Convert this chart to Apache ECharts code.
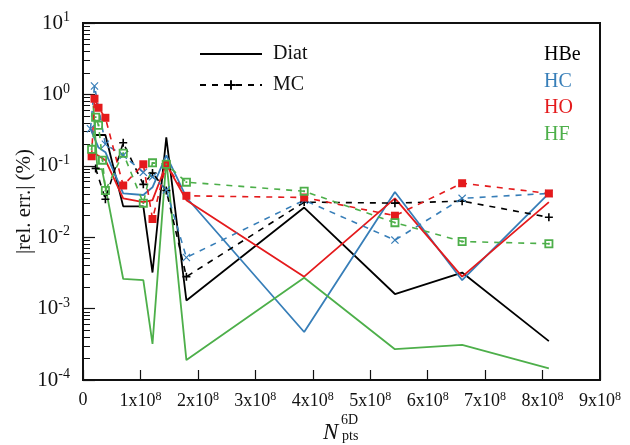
<!DOCTYPE html>
<html>
<head>
<meta charset="utf-8">
<script src="https://cdn.jsdelivr.net/npm/echarts@6/dist/echarts.min.js"></script>
<style>
  html, body { margin: 0; padding: 0; background: #fff; }
  #chart { width: 630px; height: 445px; }
</style>
</head>
<body>
<div id="chart"></div>
<script>
// x values are in units of 1e8 points
const hbeDiatX = [0.2, 0.39, 0.7, 1.05, 1.21, 1.45, 1.8, 3.85, 5.43, 6.6, 8.11]
const hbeDiatY = [0.27, 0.27, 0.027, 0.027, 0.0032, 0.25, 0.0013, 0.026, 0.0016, 0.0032, 0.00035]
const hcDiatX = [0.13, 0.27, 0.39, 0.7, 1.05, 1.21, 1.45, 1.8, 3.85, 5.43, 6.6, 8.11]
const hcDiatY = [0.33, 0.18, 0.155, 0.041, 0.039, 0.05, 0.14, 0.036, 0.00047, 0.043, 0.0025, 0.041]
const hoDiatX = [0.2, 0.39, 0.7, 1.05, 1.21, 1.45, 1.8, 3.85, 5.43, 6.6, 8.11]
const hoDiatY = [0.15, 0.12, 0.035, 0.031, 0.033, 0.105, 0.033, 0.0028, 0.035, 0.0028, 0.031]
const hfDiatX = [0.18, 0.25, 0.33, 0.7, 1.05, 1.21, 1.45, 1.8, 3.85, 5.43, 6.6, 8.11]
const hfDiatY = [0.7, 0.09, 0.09, 0.0026, 0.0025, 0.00032, 0.12, 0.00019, 0.0027, 0.00027, 0.00031, 0.000145]

const hbeMcX = [0.22, 0.39, 0.7, 1.05, 1.21, 1.45, 1.8, 3.85, 5.43, 6.6, 8.11]
const hbeMcY = [0.092, 0.034, 0.21, 0.055, 0.079, 0.045, 0.0028, 0.031, 0.030, 0.032, 0.019]
const hcMcX = [0.13, 0.2, 0.39, 0.7, 1.05, 1.21, 1.45, 1.8, 3.85, 5.43, 6.6, 8.11]
const hcMcY = [0.33, 1.31, 0.2, 0.14, 0.081, 0.07, 0.046, 0.0052, 0.033, 0.0091, 0.035, 0.041]
const hoMcX = [0.15, 0.2, 0.27, 0.39, 0.7, 1.05, 1.21, 1.45, 1.8, 3.85, 5.43, 6.6, 8.11]
const hoMcY = [0.136, 0.87, 0.65, 0.47, 0.053, 0.105, 0.018, 0.105, 0.038, 0.036, 0.02, 0.057, 0.041]
const hfMcX = [0.15, 0.22, 0.27, 0.34, 0.39, 0.7, 1.05, 1.21, 1.45, 1.8, 3.85, 5.43, 6.6, 8.11]
const hfMcY = [0.17, 0.48, 0.37, 0.12, 0.045, 0.15, 0.03, 0.11, 0.105, 0.059, 0.044, 0.016, 0.0087, 0.0081]

const moleculeNames = ['HBe', 'HC', 'HO', 'HF']
const colors = { HBe: '#000000', HC: '#377eb8', HO: '#e41a1c', HF: '#4daf4a' }

const plusPath = 'path://M4,0H6V4H10V6H6V10H4V6H0V4H4Z'
const crossPath = 'path://M1,0L5,4L9,0L10,1L6,5L10,9L9,10L5,6L1,10L0,9L4,5L0,1Z'
const squarePath = 'path://M0,0H10V10H0Z'
const openSqPath = 'path://M0,0H10V10H0ZM2,2V8H8V2ZM4,4H6V6H4Z'

const FONT = 'Liberation Serif'

const pair = (xs, ys) => xs.map((x, i) => [x * 1e8, ys[i]])

const minorTicks = []
for (let e = -4; e < 1; e++) {
  for (let k = 2; k <= 9; k++) minorTicks.push(k * Math.pow(10, e))
}

const diat = (name, xs, ys) => ({
  name: name + ' Diat',
  type: 'line',
  data: pair(xs, ys),
  symbol: 'none',
  lineStyle: { color: colors[name], width: 1.8 },
  itemStyle: { color: colors[name] },
  z: 3
})

const mc = (name, xs, ys, symbol, size) => ({
  name: name + ' MC',
  type: 'line',
  data: pair(xs, ys),
  symbol: symbol,
  symbolSize: size,
  showSymbol: true,
  lineStyle: { color: colors[name], width: 1.6, type: [6, 6] },
  itemStyle: { color: colors[name] },
  z: 4
})

const chart = echarts.init(document.getElementById('chart'))

const option = {
  animation: false,
  grid: {
    left: 83, right: 30, top: 23, bottom: 65,
    show: true, borderColor: '#111', borderWidth: 2
  },
  legend: {
    data: [
      { name: 'Diat', itemStyle: { opacity: 0 } },
      { name: 'MC' }
    ],
    orient: 'vertical',
    left: 194, top: 39,
    itemWidth: 62, itemHeight: 12, itemGap: 11,
    textStyle: { fontFamily: FONT, fontSize: 20, color: '#111', padding: [0, 0, 0, 6] }
  },
  xAxis: {
    type: 'value',
    min: 0, max: 9e8, interval: 1e8,
    axisLine: { lineStyle: { color: '#111', width: 2 } },
    axisTick: { inside: true, length: 10, lineStyle: { color: '#111', width: 1.2 } },
    splitLine: { show: false },
    axisLabel: {
      margin: 11,
      color: '#111',
      fontFamily: FONT,
      fontSize: 18,
      formatter: v => v === 0 ? '{b|0}' : `{b|${Math.round(v / 1e8)}x10}{s|8}`,
      rich: {
        b: { fontFamily: FONT, fontSize: 18, color: '#111' },
        s: { fontFamily: FONT, fontSize: 12, color: '#111', verticalAlign: 'top', padding: [0, 0, 9, 0] }
      }
    }
  },
  yAxis: [
    {
      type: 'log', logBase: 10, min: 1e-4, max: 10,
      axisLine: { lineStyle: { color: '#111', width: 2 } },
      axisTick: { inside: true, length: 12, lineStyle: { color: '#111', width: 1.2 } },
      splitLine: { show: false },
      minorTick: { show: false },
      name: '|rel. err.| (%)',
      nameLocation: 'middle',
      nameGap: 48,
      nameMoveOverlap: false,
      nameTextStyle: { fontFamily: FONT, fontSize: 21, color: '#111' },
      axisLabel: {
        margin: 13,
        color: '#111',
        formatter: v => `{b|10}{s|${Math.round(Math.log10(v))}}`,
        rich: {
          b: { fontFamily: FONT, fontSize: 21, color: '#111' },
          s: { fontFamily: FONT, fontSize: 14, color: '#111', verticalAlign: 'top', padding: [0, 0, 11, 0] }
        }
      }
    },
    {
      type: 'log', logBase: 10, min: 1e-4, max: 10,
      position: 'left',
      axisLine: { show: false },
      axisLabel: { show: false },
      splitLine: { show: false },
      axisTick: {
        inside: true, length: 7, customValues: minorTicks,
        lineStyle: { color: '#111', width: 1 }
      }
    }
  ],
  graphic: [
    ...moleculeNames.map((n, i) => ({
      type: 'text', left: 544, top: 45 + i * 26.5,
      style: { text: n, fill: colors[n], font: `20px "${FONT}"` }
    })),
    { type: 'text', left: 323, top: 421, style: { text: 'N', fill: '#111', font: `italic 23px "${FONT}"` } },
    { type: 'text', left: 341, top: 413, style: { text: '6D', fill: '#111', font: `14px "${FONT}"` } },
    { type: 'text', left: 342, top: 429, style: { text: 'pts', fill: '#111', font: `14px "${FONT}"` } }
  ],
  series: [
    { name: 'Diat', type: 'line', data: [], symbol: 'none', lineStyle: { color: '#000', width: 1.8 }, itemStyle: { color: '#000' } },
    { name: 'MC', type: 'line', data: [], symbol: plusPath, symbolSize: 8, lineStyle: { color: '#000', width: 1.6, type: [6, 6] }, itemStyle: { color: '#000' } },
    diat('HBe', hbeDiatX, hbeDiatY),
    diat('HC', hcDiatX, hcDiatY),
    diat('HO', hoDiatX, hoDiatY),
    diat('HF', hfDiatX, hfDiatY),
    mc('HBe', hbeMcX, hbeMcY, plusPath, 8),
    mc('HC', hcMcX, hcMcY, crossPath, 8),
    mc('HO', hoMcX, hoMcY, squarePath, 8),
    mc('HF', hfMcX, hfMcY, openSqPath, 9)
  ]
}

chart.setOption(option)
</script>
</body>
</html>
